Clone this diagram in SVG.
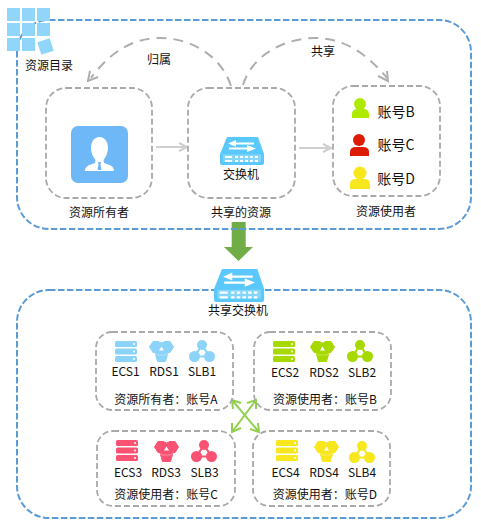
<svg xmlns="http://www.w3.org/2000/svg" width="481" height="524" viewBox="0 0 481 524">
<style>
text{font-family:"Noto Sans CJK SC","Liberation Sans",sans-serif;font-size:12px;fill:#111;text-anchor:middle}
.big{fill:none;stroke:#5b9bd5;stroke-width:2;stroke-dasharray:6.500 2.500}
.box{fill:none;stroke:#a9a9a9;stroke-width:1.800;stroke-dasharray:6 3}
.arc{fill:none;stroke:#aeaeae;stroke-width:2;stroke-dasharray:10 7}
.arcend{fill:none;stroke:#aeaeae;stroke-width:2}
.flow{fill:none;stroke:#cfcfcf;stroke-width:2}
.x{fill:none;stroke:#92d050;stroke-width:2}
.t{fill:#8fd6fa}
.c1{color:#8bd3f9}.c2{color:#a6d900}.c3{color:#fa5272}.c4{color:#f8e71c}
</style>
<defs>
<g id="ecs">
<rect x="0" y="0" width="22" height="6" rx="1.500" fill="currentColor"/><rect x="0" y="7.500" width="22" height="6" rx="1.500" fill="currentColor"/><rect x="0" y="15" width="22" height="6" rx="1.500" fill="currentColor"/>
<circle cx="19" cy="3" r="1" fill="#fff"/><circle cx="19" cy="10.500" r="1" fill="#fff"/><circle cx="19" cy="18" r="1" fill="#fff"/>
</g>
<g id="rds">
<path d="M4,0.500H9L12.500,2L16,0.500H21L24.500,6L21,11.500H19L16.500,20.500H8.500L6,11.500H4L0.500,6Z" fill="currentColor" stroke="currentColor" stroke-linejoin="round"/>
<path d="M19,12.500L16.500,14H8.500L6,12.500" fill="none" stroke="#fff" stroke-width=".6" opacity=".6"/>
<path d="M12.500,5.500L15,9.500H10Z" fill="#fff"/>
</g>
<g id="slb">
<path d="M13,5L5.500,16.500H20.500Z" fill="none" stroke="currentColor" stroke-width="2.200"/>
<circle cx="13" cy="5" r="5" fill="currentColor"/><circle cx="5.500" cy="16.500" r="5.500" fill="currentColor"/><circle cx="20.500" cy="16.500" r="5.500" fill="currentColor"/>
</g>
<g id="switch">
<path d="M7,0H38L44,17V26Q44,28 42,28H2Q0,28 0,26V17Z" fill="#5bc8fb"/>
<path d="M8,6.500L16,3V5.500H34V7.500H16V9.800Z" fill="#fff"/><path d="M36,11.500L27,8V10.500H9V12.500H27V15Z" fill="#fff"/>
<path d="M3,17.500H41V25H3Z" fill="#fff" opacity=".25"/>
<path d="M5,19H12V21H5ZM5,23H12V25H5ZM15,19H18V21H15ZM20,19H23V21H20ZM25,19H28V21H25ZM30,19H33V21H30ZM35,19H38V21H35ZM15,23H18V25H15ZM20,23H23V25H20ZM25,23H28V25H25ZM30,23H33V25H30ZM35,23H38V25H35Z" fill="#fff"/>
</g>
</defs>

<g id="connectors">
<path d="M231,86C221,55 190,38 160,38C130,38 108,55 91,78" class="arc"/>
<path d="M90,71L88,81L98,77" class="arcend"/>
<path d="M243,85C252,55 285,38 315,38C345,38 368,55 387,78" class="arc"/>
<path d="M378,76L388,81L387,71" class="arcend"/>
<path d="M156,147H187M179,143L187,147L179,151" class="flow"/>
<path d="M299,148H331M323,144L331,148L323,152" class="flow"/>
<path d="M232,432L256,400M232,423L232,432L241,428M247,403L256,400L256,409" class="x"/>
<path d="M232,400L259,432M233,409L232,400L241,403M250,429L259,432L258,423" class="x"/>
<path d="M231.700,222H245.700V247H253L238.500,261L224,247H231.700Z" fill="#70ad47"/>
</g>

<g id="catalog-frame"><rect x="17" y="20" width="454" height="209" rx="32" class="big"/></g>
<g id="catalog-icon">
<rect x="7" y="8" width="13" height="13" class="t"/><rect x="22" y="8" width="13" height="13" class="t"/><rect x="37" y="8" width="13" height="13" class="t"/>
<rect x="7" y="23" width="13" height="13" class="t"/><rect x="22" y="23" width="13" height="13" class="t"/><rect x="37" y="23" width="13" height="13" class="t"/>
<rect x="7" y="38" width="13" height="13" class="t"/><rect x="22" y="38" width="13" height="13" class="t"/>
<rect x="39" y="40" width="13" height="13" class="t" transform="rotate(-18 45.500 46.500)"/>
<text x="49" y="70">资源目录</text>
</g>
<g id="label-belong"><text x="159" y="64">归属</text></g>
<g id="label-share"><text x="323" y="56">共享</text></g>

<g id="owner">
<rect x="46" y="88" width="106" height="110" rx="20" class="box"/>
<rect x="71" y="126" width="57" height="57" rx="7" fill="#6fb8f7"/>
<path d="M99.500,137C105,137 108,142 108,148C108,153 106,157 103.500,160L104,163C110,165 114,166 114,171H85C85,166 89,165 95,163L95.500,160C93,157 91,153 91,148C91,142 94,137 99.500,137Z" fill="#fff"/>
<path d="M98,162H101L100.500,164L101.500,170H97.500L98.500,164Z" fill="#6fb8f7"/>
<text x="99" y="217">资源所有者</text>
</g>
<g id="shared">
<rect x="188" y="88" width="107" height="110" rx="20" class="box"/>
<use href="#switch" x="220" y="137"/>
<text x="241" y="179">交换机</text>
<text x="241" y="217">共享的资源</text>
</g>
<g id="users">
<rect x="333" y="86" width="107" height="110" rx="20" class="box"/>
<circle cx="360" cy="104" r="6" fill="#aeea00"/><path d="M352,118V114Q352,109 358,109H363Q369,109 369,114V118Z" fill="#aeea00"/>
<circle cx="359" cy="140" r="6" fill="#dd1c06"/><path d="M350,156V152Q350,147 356,147H363Q369,147 369,152V156Z" fill="#dd1c06"/>
<circle cx="360" cy="173" r="6.500" fill="#f8e71c"/><path d="M350,189V184Q350,179 356,179H364Q370,179 370,184V189Z" fill="#f8e71c"/>
<text x="396" y="117" style="font-size:14px">账号B</text>
<text x="396" y="150" style="font-size:14px">账号C</text>
<text x="396" y="184" style="font-size:14px">账号D</text>
<text x="386" y="216">资源使用者</text>
</g>

<g id="shared-frame"><rect x="17" y="290" width="454" height="228" rx="32" class="big"/></g>
<g id="shared-switch">
<use href="#switch" transform="translate(214 269) scale(1.140 1.180)"/>
<text x="238" y="315">共享交换机</text>
</g>

<g id="account-a" class="c1">
<rect x="96" y="332" width="137" height="78" rx="16" class="box"/>
<use href="#ecs" x="115" y="341"/><use href="#rds" x="149" y="341"/><use href="#slb" x="189" y="340"/>
<text x="125.500" y="376">ECS1</text><text x="164" y="376">RDS1</text><text x="202" y="376">SLB1</text>
<text x="166" y="404">资源所有者：账号A</text>
</g>
<g id="account-b" class="c2">
<rect x="254" y="332" width="137" height="78" rx="16" class="box"/>
<use href="#ecs" x="273" y="341"/><use href="#rds" x="310" y="341"/><use href="#slb" x="347" y="340"/>
<text x="285" y="377">ECS2</text><text x="324" y="377">RDS2</text><text x="362" y="377">SLB2</text>
<text x="325" y="404">资源使用者：账号B</text>
</g>
<g id="account-c" class="c3">
<rect x="97" y="431" width="138" height="75" rx="16" class="box"/>
<use href="#ecs" x="116" y="440"/><use href="#rds" x="154" y="441"/><use href="#slb" x="191" y="440"/>
<text x="128" y="477">ECS3</text><text x="166" y="477">RDS3</text><text x="204.500" y="477">SLB3</text>
<text x="166" y="499">资源使用者：账号C</text>
</g>
<g id="account-d" class="c4">
<rect x="253" y="431" width="137" height="75" rx="16" class="box"/>
<use href="#ecs" x="276" y="440"/><use href="#rds" x="314" y="441"/><use href="#slb" x="349" y="441"/>
<text x="285.500" y="477">ECS4</text><text x="324" y="477">RDS4</text><text x="362" y="477">SLB4</text>
<text x="325" y="499">资源使用者：账号D</text>
</g>
</svg>
